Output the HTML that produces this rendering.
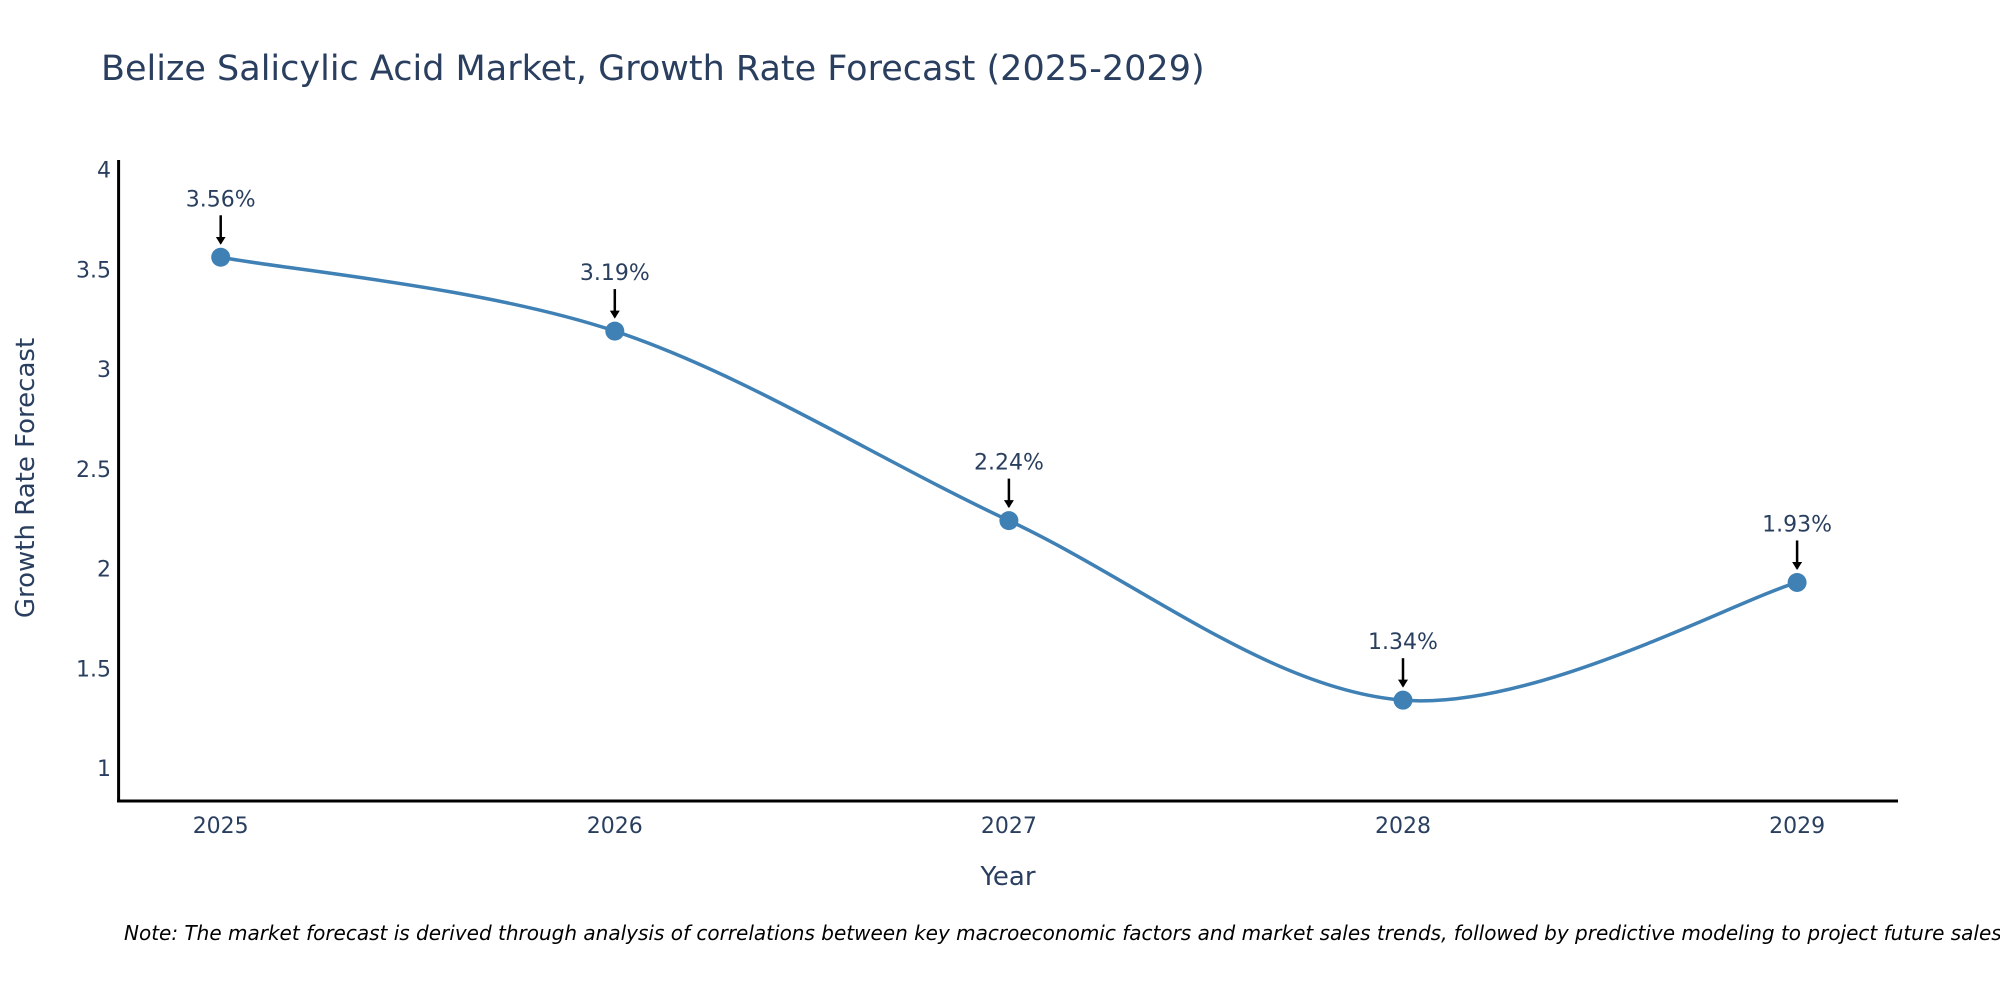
<!DOCTYPE html>
<html><head><meta charset="utf-8"><style>
body{margin:0;background:#fff}
svg{display:block;font-family:"DejaVu Sans","Liberation Sans",sans-serif}
</style></head><body>
<svg id="chart" width="2000" height="1000" viewBox="0 0 2000 1000">
<defs><marker id="ah" markerWidth="4" markerHeight="4" refX="2.6" refY="2" orient="auto" markerUnits="strokeWidth"><path d="M0,0 L3.2,2 L0,4 z" fill="#000"/></marker></defs>
<text x="101" y="80" font-size="35" fill="#2a3f5f">Belize Salicylic Acid Market, Growth Rate Forecast (2025-2029)</text>
<g id="yticks"></g><g id="xticks"></g>
<line x1="118.6" y1="160" x2="118.6" y2="801" stroke="#000" stroke-width="3"/>
<line x1="117" y1="801" x2="1898" y2="801" stroke="#000" stroke-width="3"/>
<path id="line" fill="none" stroke="#3f80b5" stroke-width="3.5"/>
<g id="marks"></g>
<text x="1008" y="885" font-size="26" fill="#2a3f5f" text-anchor="middle">Year</text>
<text transform="translate(34,478) rotate(-90)" font-size="26" fill="#2a3f5f" text-anchor="middle">Growth Rate Forecast</text>
<text x="124" y="940" font-size="20" font-style="italic" fill="#000">Note: The market forecast is derived through analysis of correlations between key macroeconomic factors and market sales trends, followed by predictive modeling to project future sales.</text>
</svg>
<script>
const years=["2025","2026","2027","2028","2029"];
const values=[3.56,3.19,2.24,1.34,1.93];
const labels=["3.56%","3.19%","2.24%","1.34%","1.93%"];
const yTicks=[1,1.5,2,2.5,3,3.5,4];
const NS="http://www.w3.org/2000/svg";
const X=i=>220.7+i*394.1;
const Y=v=>768-(v-1)*199.5;
function mk(t,a,p){const e=document.createElementNS(NS,t);for(const k in a)e.setAttribute(k,a[k]);p.appendChild(e);return e;}
const yt=document.getElementById('yticks'),xt=document.getElementById('xticks'),mg=document.getElementById('marks');
yTicks.forEach(v=>{const t=mk('text',{x:111,y:Y(v)+8,'font-size':22,fill:'#2a3f5f','text-anchor':'end'},yt);t.textContent=String(v);

});
years.forEach((y,i)=>{const t=mk('text',{x:X(i),y:833,'font-size':22,fill:'#2a3f5f','text-anchor':'middle'},xt);t.textContent=y;

});
const P=values.map((v,i)=>[X(i),Y(v)]);
let d=`M${P[0][0]},${P[0][1]}`;
for(let i=0;i<P.length-1;i++){const p0=P[Math.max(0,i-1)],p1=P[i],p2=P[i+1],p3=P[Math.min(P.length-1,i+2)];const s=1/6;
d+=` C${p1[0]+(p2[0]-p0[0])*s},${p1[1]+(p2[1]-p0[1])*s} ${p2[0]-(p3[0]-p1[0])*s},${p2[1]-(p3[1]-p1[1])*s} ${p2[0]},${p2[1]}`;}
document.getElementById('line').setAttribute('d',d);
P.forEach((p,i)=>{const c=mk('circle',{cx:p[0],cy:p[1],r:9.5,fill:'#3f80b5'},mg);


const a=mk('line',{x1:p[0],y1:p[1]-42,x2:p[0],y2:p[1]-14,stroke:'#000','stroke-width':2.5,'marker-end':'url(#ah)'},mg);


const t=mk('text',{x:p[0],y:p[1]-51,'font-size':22,fill:'#2a3f5f','text-anchor':'middle'},mg);t.textContent=labels[i];

});
</script>
</body></html>
